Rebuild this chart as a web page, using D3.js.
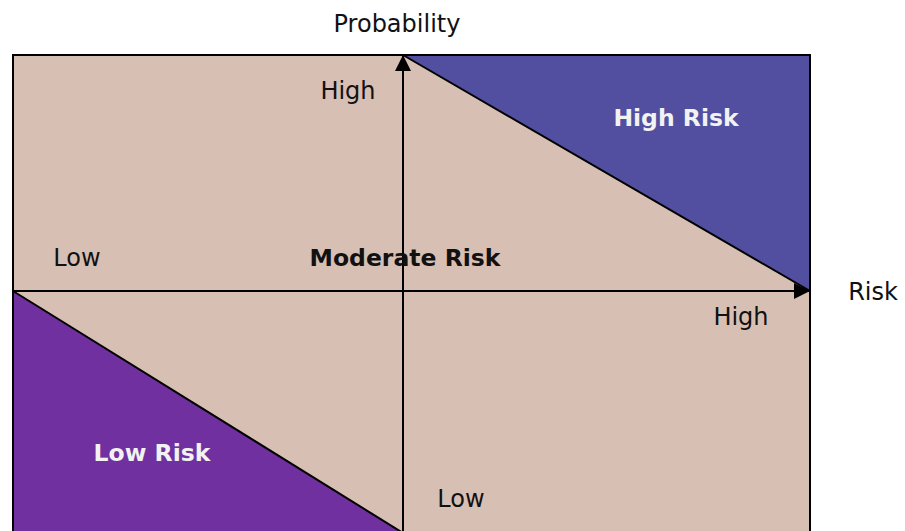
<!DOCTYPE html>
<html>
<head>
<meta charset="utf-8">
<script src="https://cdn.jsdelivr.net/npm/d3@7"></script>
<style>
  body { margin: 0; background: #fff; }
  text { font-family: "DejaVu Sans", Verdana, sans-serif; }
</style>
</head>
<body>
<div id="container"></div>
<script>
// risk regions, in axis units (-1 .. 1 on both axes)
let regionNames = ['High Risk', 'Low Risk'];
let regionColors = ['#524fa0', '#7030a0'];
let regionPoints = [
  [[0, 1], [1, 1], [1, 0]],
  [[-1, 0], [-1, -1], [0, -1]]
];

let axisTitles = ['Risk', 'Probability'];
let xTickLabels = ['Low', 'High'];
let yTickLabels = ['Low', 'High'];
let centerLabel = 'Moderate Risk';

let svgWidth = 905;
let svgHeight = 531;

let x = d3.scaleLinear().domain([-1, 0, 1]).range([13, 403, 810]);
let y = d3.scaleLinear().domain([-1, 0, 1]).range([533, 291, 55]);

let svg = d3.select('#container')
  .append('svg')
  .attr('width', svgWidth)
  .attr('height', svgHeight);

let defs = svg.append('defs');
defs.append('marker')
  .attr('id', 'arrow')
  .attr('viewBox', '0 0 10 10')
  .attr('refX', 10)
  .attr('refY', 5)
  .attr('markerWidth', 8)
  .attr('markerHeight', 8)
  .attr('markerUnits', 'strokeWidth')
  .attr('orient', 'auto')
  .append('path')
  .attr('d', 'M0,0 L10,5 L0,10 Z')
  .attr('fill', '#000');

// background
svg.append('rect')
  .attr('x', x(-1))
  .attr('y', y(1))
  .attr('width', x(1) - x(-1))
  .attr('height', y(-1) - y(1))
  .attr('fill', '#d8bfb4');

let line = d3.line().x(d => x(d[0])).y(d => y(d[1]));

svg.selectAll('path.region')
  .data(regionPoints)
  .enter()
  .append('path')
  .attr('class', 'region')
  .attr('d', d => line(d) + 'Z')
  .attr('fill', (d, i) => regionColors[i]);

// diagonal edges
svg.selectAll('line.diag')
  .data(regionPoints)
  .enter()
  .append('line')
  .attr('x1', d => x(d[0][0]))
  .attr('y1', d => y(d[0][1]))
  .attr('x2', d => x(d[2][0]))
  .attr('y2', d => y(d[2][1]))
  .attr('stroke', '#000')
  .attr('stroke-width', 2);

// border
svg.append('rect')
  .attr('x', x(-1))
  .attr('y', y(1))
  .attr('width', x(1) - x(-1))
  .attr('height', y(-1) - y(1))
  .attr('fill', 'none')
  .attr('stroke', '#000')
  .attr('stroke-width', 2);

// axes
svg.append('line')
  .attr('x1', x(-1)).attr('y1', y(0))
  .attr('x2', x(1)).attr('y2', y(0))
  .attr('stroke', '#000').attr('stroke-width', 2)
  .attr('marker-end', 'url(#arrow)');
svg.append('line')
  .attr('x1', x(0)).attr('y1', y(-1))
  .attr('x2', x(0)).attr('y2', y(1))
  .attr('stroke', '#000').attr('stroke-width', 2)
  .attr('marker-end', 'url(#arrow)');

let fs = 24;
function label(t, px, py, opts) {
  opts = opts || {};
  svg.append('text')
    .attr('x', px)
    .attr('y', py)
    .attr('text-anchor', 'middle')
    .attr('font-size', opts.bold ? fs - 0.5 : fs)
    .attr('font-weight', opts.bold ? 'bold' : 'normal')
    .attr('fill', opts.fill || '#111')
    .text(t);
}

label(axisTitles[1], x(0) - 6, 32);
label(axisTitles[0], 873, y(0) + 9);
label(yTickLabels[1], 348, y(1) + 44);
label(yTickLabels[0], 461, y(-1) - 26);
label(xTickLabels[0], 77, y(0) - 25);
label(xTickLabels[1], 741, y(0) + 34);
label(centerLabel, 405, y(0) - 25, { bold: true });
label(regionNames[0], 676, 126, { bold: true, fill: '#f2f2f2' });
label(regionNames[1], 152, 461, { bold: true, fill: '#f2f2f2' });
</script>
</body>
</html>
